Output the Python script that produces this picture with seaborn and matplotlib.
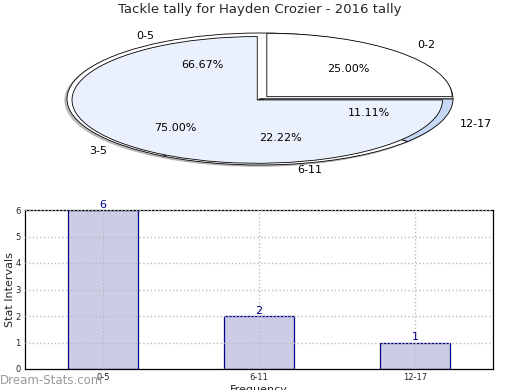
import matplotlib
matplotlib.use("Agg")
import matplotlib.pyplot as plt
import seaborn as sns
import pandas as pd

title = "Tackle tally for Hayden Crozier - 2016 tally"
outer_labels = ["0-5", "6-11", "12-17"]
outer_values = [6, 2, 1]
inner_labels = ["0-2", "3-5"]
inner_values = [1, 3]

sns.set_theme(style="white")
plt.rcParams['font.family'] = ['DejaVu Sans']

fig = plt.figure(figsize=(5.2, 3.9), dpi=100)

# Pie (elliptical)
cx, cy, rx, ry = 260, 99, 193, 66
axp = fig.add_axes([(cx - rx) / 520, 1 - (cy + ry) / 390, 2 * rx / 520, 2 * ry / 390])
axp.pie(outer_values, labels=outer_labels, autopct="%.2f%%", startangle=0,
        counterclock=True, colors=["white", "white", "#c6d8f6"],
        shadow={"ox": -0.008, "oy": -0.015, "shade": 0.5},
        labeldistance=1.1, pctdistance=0.6,
        wedgeprops=dict(edgecolor="black", linewidth=0.6),
        textprops=dict(fontsize=8, color="black"))
axp.pie(inner_values, labels=inner_labels, autopct="%.2f%%", startangle=0,
        counterclock=True, colors=["white", "#ebf1fc"], radius=0.96,
        explode=[0.05, 0.02], labeldistance=1.1 / 0.96, pctdistance=0.6 / 0.96,
        wedgeprops=dict(edgecolor="black", linewidth=0.6),
        textprops=dict(fontsize=8, color="black"))
axp.set_aspect("auto")
axp.set_xlim(-1, 1)
axp.set_ylim(-1, 1)
axp.axis("off")

fig.text(260 / 520, 1 - 10 / 390, title, ha="center", va="center", fontsize=9.5)

# Bars
axb = fig.add_axes([25 / 520, 1 - 369 / 390, 468 / 520, 159 / 390])
df = pd.DataFrame({"interval": outer_labels, "count": outer_values})
sns.barplot(data=df, x="interval", y="count", ax=axb, color="#ccccE6",
            edgecolor="#000088", linewidth=0.9, width=0.45, saturation=1)
axb.set_xlim(-0.5, 2.5)
axb.set_ylim(0, 6)
axb.set_yticks(range(0, 7))
axb.tick_params(axis="both", labelsize=6, length=2, pad=1)
axb.grid(True, linestyle=":", color="#bbbbbb", linewidth=1.0)
axb.set_axisbelow(False)
for sp in axb.spines.values():
    sp.set_color("black")
    sp.set_linewidth(0.9)
for i, v in enumerate(outer_values):
    axb.text(i, v, str(v), ha="center", va="bottom", fontsize=8, color="#000088")
axb.set_ylabel("Stat Intervals", fontsize=8)
axb.yaxis.set_label_coords(-0.021, 0.5)
axb.set_xlabel("Frequency", fontsize=8, labelpad=2)

fig.text(0, 1 - 381 / 390, "Dream-Stats.com", ha="left", va="center",
         fontsize=8.5, color="#999999")

fig.savefig("out.png", dpi=100)
